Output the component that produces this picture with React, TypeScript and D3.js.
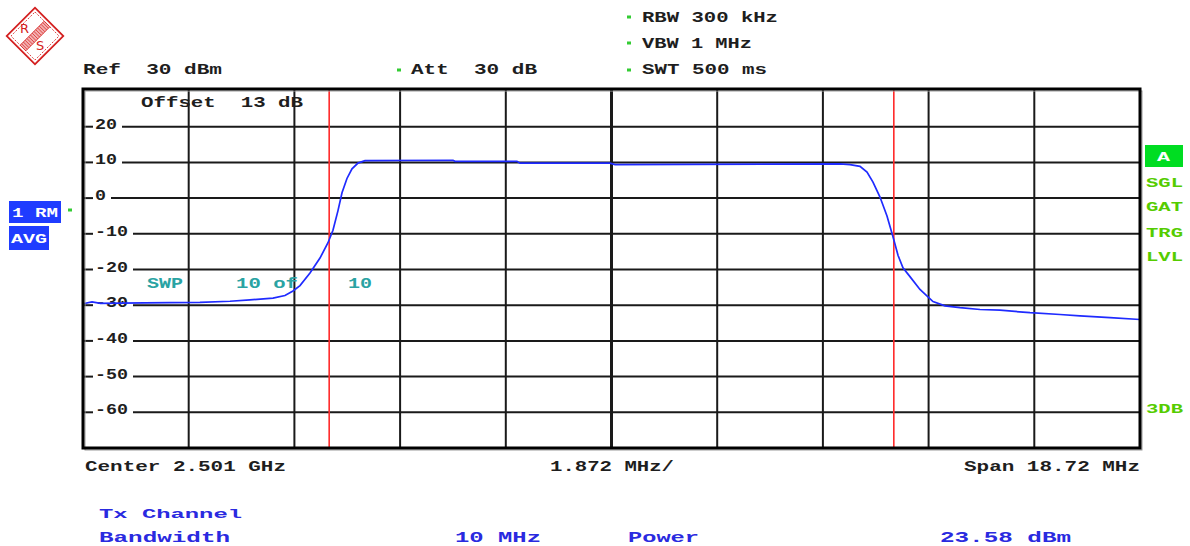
import React from "react";
import * as d3 from "d3";

// ---------- data ----------
const spanMHz = 18.72;
const divMHz = 1.872;
const gridDivisions = [-4, -3, -2, -1, 0, 1, 2, 3, 4];
const yTicks = [20, 10, 0, -10, -20, -30, -40, -50, -60];
const yTickLabels = ["20", "10", "0", "-10", "-20", "-30", "-40", "-50", "-60"];
const channelEdgesMHz = [-5, 5];
const traceFreqMHz = [
  -9.36, -9.2, -9.05, -8.705, -7.82, -7.29, -6.757, -6.403, -5.995, -5.783, -5.641, -5.517,
  -5.34, -5.163, -5.021, -4.933, -4.844, -4.773, -4.685, -4.596, -4.49, -4.366,
  -2.807, -2.772, -1.674, -1.621, -0.027, 0.062, 4.047, 4.224, 4.401, 4.525, 4.631,
  4.755, 4.879, 4.985, 5.074, 5.162, 5.286, 5.463, 5.694, 5.906, 6.172, 6.526, 6.88,
  7.412, 7.943, 8.297, 8.828, 9.36,
];
const traceLevelDbm = [
  -29.6, -29.1, -29.5, -29.4, -29.3, -29.2, -28.9, -28.5, -28.0, -27.3, -26.0, -24.5,
  -21.0, -16.8, -12.5, -9.0, -3.5, 1.5, 5.5, 8.2, 9.8, 10.5,
  10.6, 10.3, 10.3, 9.8, 9.8, 9.4, 9.6, 9.4, 8.9, 7.3, 4.5,
  0.3, -5.0, -10.8, -16.0, -19.5, -22.0, -25.6, -29.0, -30.2, -30.7, -31.2, -31.4,
  -32.1, -32.6, -33.0, -33.5, -34.0,
];
const sideLabels = ["SGL", "GAT", "TRG", "LVL"];

// ---------- layout ----------
const W = 1190;
const H = 546;
const L = 83, R = 1140, TOP = 89, BOT = 448;

const FONT = "'Liberation Mono', 'DejaVu Sans Mono', monospace";

const T = ({ x, y, w, s, fill = "#1e1e1e", size = 15, weight = "bold" }: any) => (
  <text
    x={x}
    y={y}
    textLength={w}
    lengthAdjust="spacingAndGlyphs"
    fontFamily={FONT}
    fontWeight={weight}
    fontSize={size}
    fill={fill}
    style={{ whiteSpace: "pre" }}
  >
    {s}
  </text>
);

const Dot = ({ x, y }: any) => <rect x={x - 2} y={y - 1.5} width={4} height={3} fill="#33cc33" />;

export default function App() {
  const x = d3.scaleLinear().domain([-spanMHz / 2, spanMHz / 2]).range([L, R]);
  const y = d3.scaleLinear().domain([-70, 30]).range([BOT, TOP + 2]);

  const pts: [number, number][] = traceFreqMHz.map((f, i) => [f, traceLevelDbm[i]]);
  const line = d3
    .line<[number, number]>()
    .x((d) => x(d[0]))
    .y((d) => y(d[1]))
    .curve(d3.curveLinear);

  const gridColor = "#1a1a1a";

  return (
    <svg
      width={W}
      height={H}
      style={{ position: "absolute", left: 0, top: 0, display: "block", background: "#fff" }}
    >
      <rect width={W} height={H} fill="#fff" />

      {/* R&S logo */}
      <g transform="translate(35,36) rotate(45)" stroke="#d42020" fill="none">
        <rect x={-20} y={-20} width={40} height={40} strokeWidth={1.8} />
        <rect x={-17} y={-17} width={34} height={34} strokeWidth={0.8} strokeDasharray="2 1.5" />
        <rect x={-4} y={-17} width={8} height={34} fill="#f3b0b0" strokeWidth={0.8} />
        {d3.range(-15, 16, 2.5).map((v) => (
          <line key={v} x1={-4} y1={v} x2={4} y2={v} strokeWidth={0.7} />
        ))}
      </g>
      <text x={20} y={33} fontFamily="'DejaVu Sans'" fontSize={13} fill="#d42020">R</text>
      <text x={36} y={50} fontFamily="'DejaVu Sans'" fontSize={13} fill="#d42020">S</text>

      {/* header */}
      <T x={83} y={74} w={139} s="Ref  30 dBm" />
      <Dot x={399} y={70} />
      <T x={411} y={74} w={126} s="Att  30 dB" />
      <Dot x={629} y={17} />
      <T x={642} y={22} w={136} s="RBW 300 kHz" />
      <Dot x={629} y={43} />
      <T x={642} y={48} w={110} s="VBW 1 MHz" />
      <Dot x={629} y={70} />
      <T x={642} y={74} w={125} s="SWT 500 ms" />

      {/* left trace info boxes */}
      <rect x={9} y={201} width={52} height={22} fill="#1f3cff" />
      <T x={12} y={217} w={46} s="1 RM" fill="#fff" size={13} />
      <rect x={9} y={226} width={40} height={24} fill="#1f3cff" />
      <T x={11} y={243} w={36} s="AVG" fill="#fff" size={13} />
      <Dot x={70} y={210} />

      {/* right side status */}
      <rect x={1145} y={145} width={38} height={22} fill="#00dd22" />
      <T x={1157} y={161} w={13} s="A" fill="#fff" size={13} />
      {sideLabels.map((s, i) => (
        <T key={s} x={1146} y={[187, 211, 237, 261][i]} w={37} s={s} fill="#55cc00" size={13} />
      ))}
      <T x={1146} y={413} w={37} s="3DB" fill="#55cc00" size={13} />

      {/* vertical grid */}
      {gridDivisions.map((k) => (
        <line
          key={k}
          x1={x(k * divMHz)}
          x2={x(k * divMHz)}
          y1={TOP}
          y2={BOT}
          stroke={gridColor}
          strokeWidth={k === 0 ? 3 : 2}
        />
      ))}

      {/* horizontal grid with labels */}
      {yTicks.map((v, i) => {
        const yy = y(v);
        const lbl = yTickLabels[i];
        const lw = lbl.length * 11;
        return (
          <g key={v}>
            <line x1={L} x2={93} y1={yy} y2={yy} stroke={gridColor} strokeWidth={2} />
            <line x1={95 + lw + 5} x2={R} y1={yy} y2={yy} stroke={gridColor} strokeWidth={2} />
            <T x={95} y={yy + 2} w={lw} s={lbl} />
          </g>
        );
      })}

      {/* channel markers */}
      {channelEdgesMHz.map((f) => (
        <line key={f} x1={x(f)} x2={x(f)} y1={TOP} y2={BOT} stroke="#ff2a2a" strokeWidth={1.6} />
      ))}

      {/* texts inside plot */}
      <T x={141} y={107} w={162} s="Offset  13 dB" />
      <T x={147} y={288} w={36} s="SWP" fill="#2aa3a3" />
      <T x={236} y={288} w={62} s="10 of" fill="#2aa3a3" />
      <T x={348} y={288} w={24} s="10" fill="#2aa3a3" />

      {/* trace */}
      <path d={line(pts) || ""} fill="none" stroke="#1f2bff" strokeWidth={1.7} />

      {/* frame */}
      <rect x={L + 2} y={TOP + 2} width={R - L} height={BOT - TOP} fill="none" stroke="#9a9a9a" strokeWidth={1} />
      <rect x={L} y={TOP} width={R - L} height={BOT - TOP} fill="none" stroke="#000" strokeWidth={3} />

      {/* footer */}
      <T x={85} y={471} w={201} s="Center 2.501 GHz" />
      <T x={550} y={471} w={124} s="1.872 MHz/" />
      <T x={964} y={471} w={176} s="Span 18.72 MHz" />

      <T x={99} y={518} w={143} s="Tx Channel" fill="#2a2ae0" size={13} />
      <T x={99} y={542} w={131} s="Bandwidth" fill="#2a2ae0" />
      <T x={455} y={542} w={86} s="10 MHz" fill="#2a2ae0" />
      <T x={628} y={542} w={71} s="Power" fill="#2a2ae0" />
      <T x={940} y={542} w={131} s="23.58 dBm" fill="#2a2ae0" />
    </svg>
  );
}
